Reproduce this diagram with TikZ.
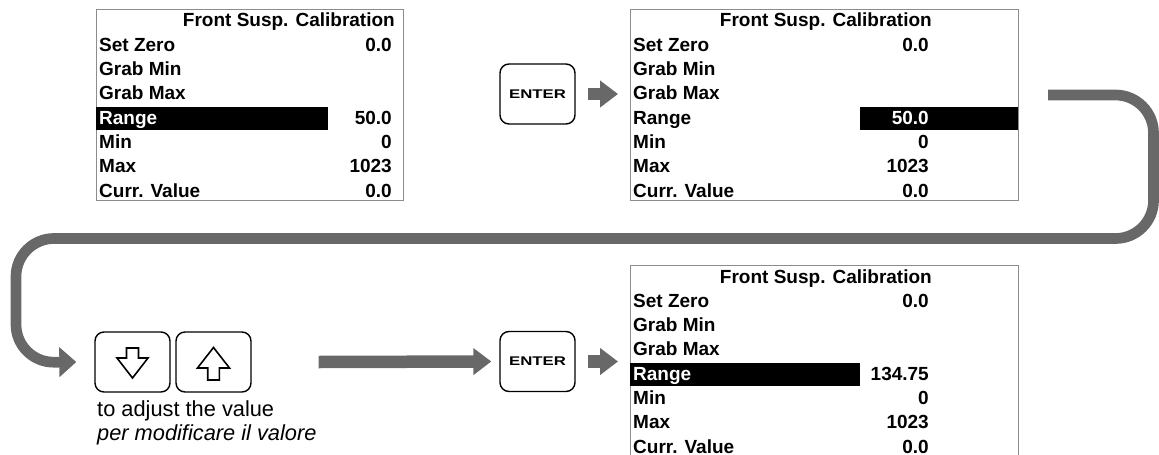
\documentclass[tikz,border=0pt]{standalone}
\usepackage{fontspec}
\usepackage{graphicx}
\setmainfont{Liberation Sans}
\usetikzlibrary{arrows.meta}

\definecolor{flow}{RGB}{104,104,104}
\definecolor{frame}{RGB}{140,140,140}

\tikzset{
  screen/.style={draw=frame, line width=1.2pt, rectangle, inner sep=0pt, anchor=north west},
  lcd/.style={font=\fontsize{19}{19}\selectfont\bfseries, inner sep=0pt},
  caption/.style={font=\fontsize{21.8}{21.8}\selectfont, inner sep=0pt, anchor=base west},
  keycap/.style={draw=black, line width=1.4pt, rounded corners=9pt,
    minimum width=75pt, minimum height=60pt, inner sep=0pt},
  glyph/.style={draw=black, line width=1.6pt, line join=miter, fill=white},
  flowarrow/.style={draw=flow, line width=12.5pt, -{Triangle[length=18pt,width=26pt]}},
  loopline/.style={draw=flow, line width=10.7pt, rounded corners=38pt,
    -{Triangle[length=17pt,width=29pt]}},
}

% rows of one calibration screen:
% #1 prefix, #2 text left x, #3 value right x, #4 title baseline y,
% #5 Range label colour, #6 Range value colour, #7 Range value
\newcommand\calrows[7]{%
  \node[lcd,anchor=base east] (#1-title) at (#3+3,#4) {Front Susp. Calibration};
  \node[lcd,anchor=base west] (#1-zero) at (#2,#4+24.3) {Set Zero};
  \node[lcd,anchor=base east] (#1-zerov) at (#3,#4+24.3) {0.0};
  \node[lcd,anchor=base west] (#1-gmin) at (#2,#4+48.6) {Grab Min};
  \node[lcd,anchor=base west] (#1-gmax) at (#2,#4+72.9) {Grab Max};
  \node[lcd,anchor=base west,text=#5] (#1-range) at (#2,#4+97.2) {Range};
  \node[lcd,anchor=base east,text=#6] (#1-rangev) at (#3,#4+97.2) {#7};
  \node[lcd,anchor=base west] (#1-min) at (#2,#4+121.5) {Min};
  \node[lcd,anchor=base east] (#1-minv) at (#3,#4+121.5) {0};
  \node[lcd,anchor=base west] (#1-max) at (#2,#4+145.8) {Max};
  \node[lcd,anchor=base east] (#1-maxv) at (#3,#4+145.8) {1023};
  \node[lcd,anchor=base west] (#1-cur) at (#2,#4+170.1) {Curr. Value};
  \node[lcd,anchor=base east] (#1-curv) at (#3,#4+170.1) {0.0};
}

\newcommand\enterlabel{\scalebox{1.33}[1]{\fontsize{12.6}{12.6}\selectfont\bfseries ENTER}}

\begin{document}
\begin{tikzpicture}[x=1pt,y=-1pt]
\useasboundingbox (0,0) rectangle (1159,455);
\clip (0,0) rectangle (1159,455);

% screen frames
\node[screen, minimum width=307pt, minimum height=191pt] (scr1) at (96,9) {};
\node[screen, minimum width=388pt, minimum height=191pt] (scr2) at (630,9) {};
\node[screen, minimum width=388pt, minimum height=205pt] (scr3) at (630,265) {};

% highlighted fields
\fill[black] (96,107) rectangle (328,130);
\fill[black] (860,107) rectangle (1018,130);
\fill[black] (630,363) rectangle (860,386);

% screen contents
\calrows{a}{99}{392}{27}{white}{black}{50.0}
\calrows{b}{633}{929}{27}{black}{white}{50.0}
\calrows{c}{633}{929}{283}{white}{black}{134.75}

% keys
\node[keycap] (enter1) at (537.5,94) {\enterlabel};
\node[keycap] (enter2) at (537.5,361.5) {\enterlabel};
\node[keycap] (down) at (132.5,362) {};
\node[keycap] (up) at (213.5,362) {};

\begin{scope}[shift={(down.center)}]
  \draw[glyph] (-6,-14) -- (6,-14) -- (6,-4) -- (15.5,-4) -- (0,16)
    -- (-15.5,-4) -- (-6,-4) -- cycle;
\end{scope}
\begin{scope}[shift={(up.center)}]
  \draw[glyph] (0,-14.5) -- (16,6) -- (5.8,6) -- (5.8,18) -- (-5.8,18)
    -- (-5.8,6) -- (-16,6) -- cycle;
\end{scope}

% caption under the arrow keys
\node[caption] (cap1) at (97,416.7) {to adjust the value};
\node[caption] (cap2) at (97,440.7) {\itshape per modificare il valore};

% flow arrows
\draw[flowarrow] ([xshift=12pt]enter1.east) -- ([xshift=-12pt]enter1.east -| scr2.west);
\draw[flowarrow] ([xshift=12pt]enter2.east) -- ([xshift=-12pt]enter2.east -| scr3.west);
\draw[flowarrow] ([xshift=67pt]up.east) -- ([xshift=-8pt]enter2.west);

% loop from the second screen back to the arrow keys
\coordinate (loopstart) at (1048,95);
\draw[loopline] (loopstart) -- (1153.5,95) -- (1153.5,238.5) -- (16,238.5)
  -- (16,362.5) -- ([xshift=-18pt]down.west);
\end{tikzpicture}
\end{document}
